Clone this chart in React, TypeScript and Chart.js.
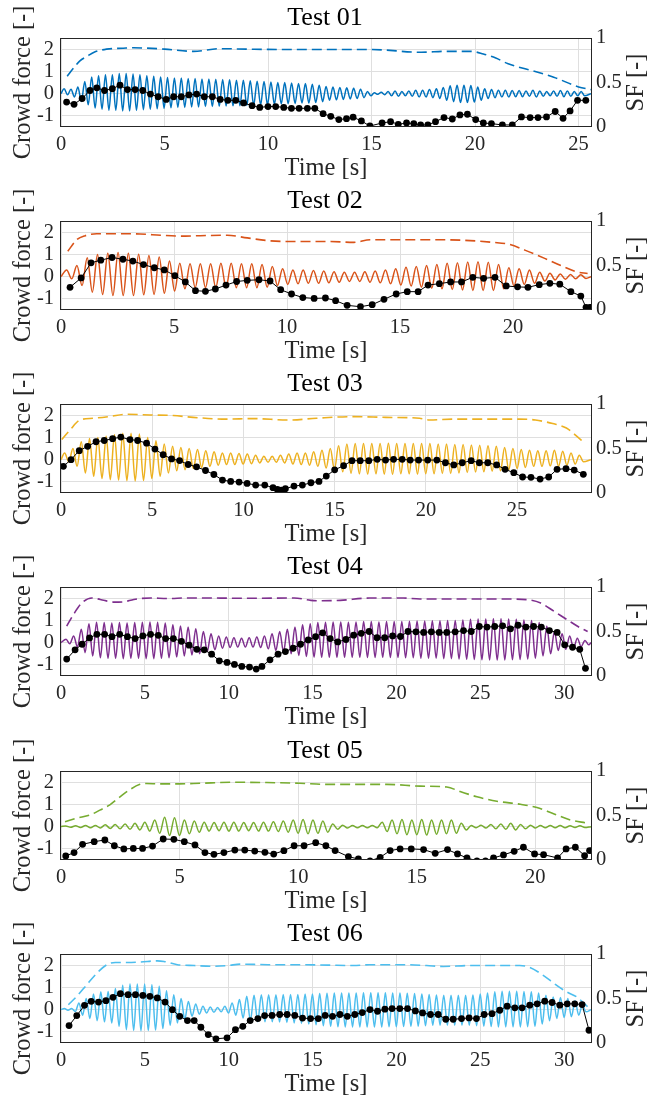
import React, { useEffect, useRef } from "react";
import { Chart, registerables } from "chart.js";

Chart.register(...registerables);

type Pair = [number, number];

// ---------------- data ----------------
const testTitles = ["Test 01", "Test 02", "Test 03", "Test 04", "Test 05", "Test 06"];
const seriesColors = ["#0072BD", "#D95319", "#EDB120", "#7E2F8E", "#77AC30", "#4DBEEE"];
const timeMax = [25.6, 23.45, 29.05, 31.6, 22.35, 31.6];
const timeTicks = [
  [0, 5, 10, 15, 20, 25],
  [0, 5, 10, 15, 20],
  [0, 5, 10, 15, 20, 25],
  [0, 5, 10, 15, 20, 25, 30],
  [0, 5, 10, 15, 20],
  [0, 5, 10, 15, 20, 25, 30],
];
const crowdTicks = [-1, 0, 1, 2];
const sfTicks = [0, 0.5, 1];
const xLabel = "Time [s]";
const yLabel = "Crowd force [-]";
const y2Label = "SF [-]";

// crowd-force oscillation: time of first crest, cycle period [s], crest and trough per cycle
const oscStart = [0.15, 0.25, 0.2, 0.3, 0.2, 0.2];
const oscPeriod = [0.333, 0.455, 0.455, 0.455, 0.417, 0.435];

const t01Peaks = [0.22, 0.2, 0.3, 0.55, 0.75, 0.8, 0.85, 0.85, 0.9, 0.9, 0.88, 0.85, 0.8, 0.78, 0.75, 0.72, 0.7, 0.7, 0.68, 0.68, 0.66, 0.66, 0.65, 0.64, 0.62, 0.6, 0.6, 0.58, 0.56, 0.55, 0.52, 0.5, 0.5, 0.48, 0.46, 0.45, 0.42, 0.38, 0.32, 0.3, 0.28, 0.26, 0.24, 0.2, 0.1, 0.04, 0.06, 0.1, 0.12, 0.1, 0.12, 0.15, 0.15, 0.18, 0.22, 0.28, 0.35, 0.38, 0.38, 0.36, 0.3, 0.22, 0.18, 0.15, 0.15, 0.14, 0.14, 0.12, 0.15, 0.12, 0.1, 0.12, 0.14, 0.12, 0.1, 0.1];
const t01Troughs = [-0.05, -0.15, -0.35, -0.5, -0.65, -0.7, -0.75, -0.75, -0.78, -0.78, -0.75, -0.72, -0.7, -0.68, -0.66, -0.64, -0.62, -0.62, -0.6, -0.6, -0.58, -0.58, -0.57, -0.56, -0.55, -0.54, -0.53, -0.52, -0.5, -0.5, -0.48, -0.46, -0.45, -0.44, -0.42, -0.42, -0.4, -0.36, -0.3, -0.28, -0.26, -0.24, -0.22, -0.18, -0.1, -0.03, -0.05, -0.1, -0.12, -0.1, -0.12, -0.15, -0.15, -0.18, -0.22, -0.3, -0.36, -0.4, -0.4, -0.38, -0.3, -0.22, -0.18, -0.15, -0.15, -0.14, -0.14, -0.12, -0.15, -0.12, -0.1, -0.12, -0.14, -0.12, -0.1, -0.1];

const t02Peaks = [0.3, 0.5, 0.85, 1.0, 1.05, 1.08, 1.05, 1.0, 0.95, 0.88, 0.7, 0.6, 0.58, 0.58, 0.58, 0.6, 0.6, 0.58, 0.58, 0.55, 0.45, 0.35, 0.3, 0.3, 0.28, 0.25, 0.22, 0.2, 0.2, 0.22, 0.25, 0.3, 0.35, 0.42, 0.45, 0.5, 0.55, 0.6, 0.62, 0.66, 0.67, 0.65, 0.55, 0.4, 0.35, 0.3, 0.2, 0.15, 0.12, 0.1, 0.08];
const t02Troughs = [-0.1, -0.4, -0.7, -0.8, -0.85, -0.85, -0.85, -0.82, -0.8, -0.75, -0.65, -0.55, -0.5, -0.5, -0.5, -0.5, -0.5, -0.5, -0.5, -0.48, -0.4, -0.35, -0.32, -0.3, -0.3, -0.28, -0.25, -0.22, -0.22, -0.25, -0.28, -0.32, -0.38, -0.42, -0.48, -0.52, -0.55, -0.58, -0.6, -0.62, -0.62, -0.62, -0.55, -0.42, -0.35, -0.3, -0.2, -0.15, -0.12, -0.1, -0.08];

const t03Peaks = [0.3, 0.5, 0.8, 0.95, 1.0, 1.05, 1.12, 1.18, 1.18, 1.15, 1.0, 0.85, 0.7, 0.6, 0.55, 0.5, 0.45, 0.4, 0.35, 0.3, 0.3, 0.28, 0.25, 0.2, 0.15, 0.15, 0.2, 0.25, 0.3, 0.3, 0.35, 0.42, 0.5, 0.62, 0.7, 0.72, 0.73, 0.72, 0.73, 0.74, 0.72, 0.72, 0.73, 0.72, 0.72, 0.7, 0.7, 0.68, 0.68, 0.66, 0.65, 0.62, 0.6, 0.55, 0.5, 0.45, 0.42, 0.4, 0.4, 0.42, 0.38, 0.3, 0.2];
const t03Troughs = [-0.1, -0.3, -0.6, -0.75, -0.85, -0.9, -0.92, -0.95, -0.96, -0.94, -0.85, -0.75, -0.6, -0.5, -0.45, -0.4, -0.35, -0.3, -0.25, -0.22, -0.22, -0.2, -0.18, -0.15, -0.12, -0.12, -0.15, -0.2, -0.22, -0.25, -0.3, -0.38, -0.45, -0.55, -0.62, -0.64, -0.65, -0.64, -0.65, -0.66, -0.64, -0.64, -0.65, -0.64, -0.64, -0.62, -0.62, -0.6, -0.58, -0.56, -0.55, -0.52, -0.5, -0.45, -0.4, -0.35, -0.3, -0.3, -0.28, -0.3, -0.25, -0.2, -0.1];

const t04Peaks = [0.15, 0.3, 0.6, 0.85, 0.92, 0.9, 0.88, 0.9, 0.88, 0.9, 0.92, 0.93, 0.92, 0.88, 0.8, 0.75, 0.7, 0.62, 0.5, 0.4, 0.3, 0.25, 0.22, 0.2, 0.22, 0.25, 0.3, 0.4, 0.5, 0.6, 0.7, 0.8, 0.85, 0.9, 0.92, 0.93, 0.93, 0.92, 0.93, 0.95, 0.95, 0.93, 0.95, 0.95, 0.95, 0.96, 0.97, 0.97, 0.98, 0.98, 1.0, 1.0, 1.02, 1.05, 1.06, 1.06, 1.07, 1.07, 1.06, 1.05, 1.02, 1.0, 0.9, 0.75, 0.5, 0.4, 0.3, 0.2, 0.1];
const t04Troughs = [-0.05, -0.2, -0.45, -0.6, -0.68, -0.7, -0.7, -0.72, -0.7, -0.7, -0.72, -0.72, -0.7, -0.68, -0.64, -0.6, -0.56, -0.5, -0.4, -0.32, -0.25, -0.22, -0.2, -0.2, -0.2, -0.22, -0.28, -0.35, -0.42, -0.5, -0.58, -0.62, -0.65, -0.66, -0.66, -0.66, -0.66, -0.66, -0.66, -0.67, -0.67, -0.66, -0.67, -0.67, -0.68, -0.68, -0.7, -0.7, -0.7, -0.72, -0.72, -0.74, -0.75, -0.76, -0.77, -0.78, -0.78, -0.78, -0.77, -0.76, -0.74, -0.7, -0.6, -0.5, -0.35, -0.3, -0.25, -0.18, -0.1];

const t05Peaks = [0.03, 0.04, 0.05, 0.05, 0.08, 0.1, 0.12, 0.15, 0.2, 0.3, 0.42, 0.4, 0.3, 0.25, 0.2, 0.18, 0.2, 0.2, 0.18, 0.18, 0.2, 0.22, 0.25, 0.3, 0.32, 0.3, 0.25, 0.12, 0.06, 0.05, 0.05, 0.05, 0.2, 0.3, 0.32, 0.3, 0.32, 0.3, 0.3, 0.3, 0.15, 0.05, 0.06, 0.1, 0.12, 0.15, 0.1, 0.06, 0.05, 0.05, 0.05, 0.04, 0.04];
const t05Troughs = [-0.03, -0.04, -0.05, -0.06, -0.08, -0.1, -0.12, -0.15, -0.2, -0.3, -0.4, -0.4, -0.32, -0.25, -0.2, -0.18, -0.2, -0.2, -0.18, -0.2, -0.2, -0.22, -0.25, -0.3, -0.32, -0.3, -0.25, -0.12, -0.06, -0.05, -0.05, -0.05, -0.22, -0.32, -0.36, -0.36, -0.38, -0.34, -0.32, -0.3, -0.15, -0.05, -0.06, -0.1, -0.12, -0.15, -0.1, -0.06, -0.05, -0.05, -0.05, -0.04, -0.04];

const t06Peaks = [0.05, 0.05, 0.3, 0.5, 0.7, 0.8, 0.82, 0.95, 1.1, 1.15, 1.15, 1.15, 1.12, 1.05, 0.85, 0.67, 0.5, 0.37, 0.25, 0.15, 0.12, 0.1, 0.15, 0.3, 0.45, 0.6, 0.65, 0.67, 0.67, 0.67, 0.68, 0.68, 0.68, 0.7, 0.7, 0.72, 0.74, 0.75, 0.75, 0.75, 0.75, 0.76, 0.76, 0.76, 0.76, 0.75, 0.75, 0.74, 0.72, 0.7, 0.68, 0.66, 0.65, 0.65, 0.65, 0.65, 0.66, 0.7, 0.75, 0.8, 0.83, 0.83, 0.83, 0.82, 0.8, 0.75, 0.65, 0.57, 0.55, 0.5, 0.4, 0.2];
const t06Troughs = [-0.03, -0.08, -0.25, -0.4, -0.5, -0.55, -0.6, -0.75, -0.9, -0.94, -0.95, -0.94, -0.92, -0.85, -0.7, -0.6, -0.45, -0.3, -0.2, -0.15, -0.12, -0.1, -0.15, -0.25, -0.38, -0.5, -0.54, -0.55, -0.55, -0.56, -0.58, -0.6, -0.62, -0.65, -0.68, -0.72, -0.75, -0.77, -0.78, -0.78, -0.78, -0.78, -0.78, -0.78, -0.77, -0.77, -0.76, -0.75, -0.74, -0.72, -0.7, -0.7, -0.7, -0.7, -0.7, -0.7, -0.72, -0.74, -0.76, -0.78, -0.78, -0.78, -0.78, -0.77, -0.75, -0.65, -0.5, -0.4, -0.35, -0.32, -0.25, -0.1];

// SF trend (dashed) [time, SF]
const t01Sf: Pair[] = [[0.3, 0.57], [0.6, 0.66], [0.9, 0.74], [1.3, 0.8], [1.6, 0.84], [2.2, 0.875], [3.0, 0.885], [3.5, 0.89], [5.0, 0.875], [6.4, 0.85], [7.7, 0.88], [9, 0.875], [11, 0.87], [13, 0.87], [15, 0.87], [17.4, 0.84], [18.6, 0.85], [19.8, 0.85], [20.4, 0.82], [21.0, 0.775], [21.6, 0.71], [22.8, 0.63], [23.8, 0.56], [25, 0.45], [25.6, 0.42]];
const t02Sf: Pair[] = [[0.3, 0.66], [0.7, 0.79], [1.07, 0.835], [1.58, 0.857], [2.47, 0.857], [3.5, 0.854], [4.4, 0.84], [5.28, 0.83], [6.17, 0.835], [7.35, 0.84], [8.24, 0.81], [9.13, 0.78], [10.0, 0.77], [10.9, 0.77], [11.9, 0.77], [12.95, 0.76], [13.7, 0.79], [15.2, 0.79], [16.6, 0.79], [18.1, 0.78], [19.1, 0.76], [19.8, 0.74], [20.55, 0.67], [21.4, 0.58], [22.2, 0.49], [22.8, 0.43], [23.3, 0.41]];
const t03Sf: Pair[] = [[0.04, 0.6], [0.5, 0.71], [1.04, 0.82], [1.77, 0.84], [2.68, 0.86], [3.6, 0.885], [4.87, 0.877], [6.15, 0.87], [7.24, 0.85], [9.07, 0.83], [10.5, 0.836], [12.5, 0.82], [14, 0.84], [16, 0.858], [17.8, 0.85], [19.65, 0.84], [20.2, 0.82], [21.5, 0.83], [23.3, 0.83], [25.1, 0.83], [26, 0.82], [26.95, 0.78], [27.7, 0.73], [28.2, 0.65], [28.6, 0.58]];
const t04Sf: Pair[] = [[0.34, 0.56], [0.74, 0.69], [1.24, 0.82], [1.84, 0.877], [2.34, 0.86], [3.14, 0.83], [3.74, 0.833], [4.34, 0.86], [5.34, 0.877], [6.34, 0.87], [7.54, 0.877], [8.74, 0.877], [10.3, 0.874], [11.9, 0.874], [13.9, 0.877], [14.9, 0.85], [15.5, 0.845], [16.65, 0.85], [18.4, 0.876], [20.4, 0.876], [21.4, 0.865], [22.4, 0.865], [24.4, 0.865], [26.4, 0.865], [27.8, 0.857], [28.6, 0.82], [29.4, 0.726], [30.2, 0.63], [30.97, 0.54], [31.4, 0.5]];
const t05Sf: Pair[] = [[0.17, 0.43], [0.66, 0.47], [1.22, 0.506], [1.64, 0.56], [2.06, 0.62], [2.49, 0.71], [2.9, 0.79], [3.33, 0.85], [3.6, 0.86], [4.17, 0.855], [5.0, 0.855], [5.86, 0.862], [7.26, 0.874], [8.67, 0.87], [10.07, 0.862], [11.2, 0.85], [12.33, 0.85], [13.74, 0.85], [15.15, 0.83], [16.27, 0.82], [16.83, 0.77], [17.54, 0.71], [18.38, 0.66], [19.37, 0.626], [20.07, 0.59], [20.77, 0.52], [21.48, 0.45], [22.18, 0.415]];
const t06Sf: Pair[] = [[0.44, 0.43], [0.94, 0.524], [1.54, 0.655], [2.14, 0.785], [2.74, 0.88], [3.24, 0.905], [3.94, 0.905], [4.74, 0.91], [5.74, 0.923], [6.14, 0.916], [6.94, 0.88], [7.94, 0.87], [9.14, 0.862], [9.94, 0.87], [10.74, 0.886], [12.34, 0.88], [14.34, 0.88], [15.9, 0.875], [17.42, 0.87], [18.4, 0.88], [20.4, 0.88], [21.8, 0.87], [22.8, 0.86], [24.4, 0.87], [26.36, 0.87], [27.35, 0.87], [27.95, 0.85], [28.75, 0.76], [29.54, 0.65], [30.14, 0.575], [30.73, 0.52], [31.13, 0.455], [31.5, 0.39]];

// black markers [time, SF]
const t01Dots: Pair[] = [[0.27, 0.28], [0.63, 0.255], [1.02, 0.32], [1.4, 0.41], [1.73, 0.44], [2.1, 0.41], [2.48, 0.43], [2.85, 0.47], [3.21, 0.42], [3.58, 0.42], [3.95, 0.41], [4.32, 0.37], [4.69, 0.34], [5.08, 0.31], [5.44, 0.34], [5.81, 0.34], [6.18, 0.36], [6.55, 0.37], [6.92, 0.34], [7.31, 0.34], [7.69, 0.31], [8.06, 0.3], [8.44, 0.3], [8.82, 0.27], [9.23, 0.24], [9.6, 0.22], [10.0, 0.23], [10.37, 0.23], [10.76, 0.22], [11.13, 0.21], [11.5, 0.21], [11.9, 0.21], [12.26, 0.21], [12.66, 0.15], [13.03, 0.12], [13.42, 0.083], [13.79, 0.094], [14.11, 0.11], [14.51, 0.068], [14.92, 0.011], [15.51, 0.045], [15.92, 0.06], [16.29, 0.03], [16.69, 0.045], [17.04, 0.038], [17.37, 0.023], [17.72, 0.023], [18.09, 0.06], [18.5, 0.106], [18.9, 0.09], [19.27, 0.136], [19.63, 0.143], [20.03, 0.083], [20.4, 0.045], [20.79, 0.038], [21.32, 0.023], [21.8, 0.023], [22.24, 0.113], [22.66, 0.106], [23.04, 0.106], [23.45, 0.113], [23.87, 0.174], [24.25, 0.098], [24.59, 0.181], [24.95, 0.3], [25.35, 0.3]];
const t02Dots: Pair[] = [[0.4, 0.255], [0.89, 0.36], [1.33, 0.53], [1.76, 0.56], [2.26, 0.59], [2.74, 0.57], [3.18, 0.55], [3.65, 0.51], [4.13, 0.475], [4.57, 0.45], [5.04, 0.386], [5.5, 0.315], [5.95, 0.217], [6.39, 0.21], [6.83, 0.236], [7.3, 0.28], [7.77, 0.32], [8.24, 0.333], [8.76, 0.34], [9.25, 0.326], [9.72, 0.228], [10.2, 0.18], [10.7, 0.14], [11.2, 0.13], [11.7, 0.135], [12.15, 0.105], [12.66, 0.052], [13.25, 0.037], [13.77, 0.06], [14.29, 0.12], [14.83, 0.18], [15.32, 0.206], [15.8, 0.206], [16.24, 0.28], [16.74, 0.296], [17.24, 0.315], [17.72, 0.315], [18.22, 0.367], [18.7, 0.356], [19.2, 0.367], [19.7, 0.27], [20.2, 0.26], [20.66, 0.255], [21.16, 0.285], [21.63, 0.3], [22.07, 0.29], [22.56, 0.206], [23.0, 0.157], [23.23, 0.03], [23.4, 0.03]];
const t03Dots: Pair[] = [[0.13, 0.3], [0.55, 0.375], [1.0, 0.476], [1.46, 0.524], [1.92, 0.576], [2.37, 0.59], [2.83, 0.61], [3.28, 0.628], [3.78, 0.6], [4.2, 0.59], [4.69, 0.56], [5.15, 0.494], [5.6, 0.43], [6.06, 0.383], [6.5, 0.364], [6.97, 0.32], [7.43, 0.294], [7.92, 0.253], [8.38, 0.208], [8.85, 0.145], [9.3, 0.13], [9.76, 0.123], [10.2, 0.108], [10.67, 0.089], [11.17, 0.089], [11.62, 0.06], [11.86, 0.04], [12.08, 0.033], [12.3, 0.048], [12.77, 0.078], [13.23, 0.089], [13.7, 0.115], [14.14, 0.13], [14.54, 0.19], [15.0, 0.26], [15.49, 0.307], [15.95, 0.363], [16.4, 0.363], [16.87, 0.363], [17.33, 0.378], [17.79, 0.37], [18.23, 0.378], [18.7, 0.378], [19.14, 0.37], [19.6, 0.37], [20.1, 0.37], [20.6, 0.37], [21.07, 0.34], [21.53, 0.315], [21.99, 0.34], [22.48, 0.363], [22.93, 0.34], [23.39, 0.34], [23.88, 0.315], [24.34, 0.266], [24.82, 0.228], [25.3, 0.18], [25.76, 0.176], [26.26, 0.157], [26.73, 0.18], [27.19, 0.266], [27.68, 0.273], [28.13, 0.258], [28.63, 0.21]];
const t04Dots: Pair[] = [[0.34, 0.19], [0.84, 0.294], [1.26, 0.357], [1.7, 0.428], [2.14, 0.468], [2.6, 0.468], [3.04, 0.442], [3.5, 0.468], [3.96, 0.442], [4.42, 0.42], [4.88, 0.45], [5.34, 0.468], [5.8, 0.457], [6.24, 0.42], [6.7, 0.42], [7.18, 0.39], [7.64, 0.346], [8.1, 0.3], [8.54, 0.294], [8.98, 0.245], [9.44, 0.171], [9.9, 0.152], [10.34, 0.13], [10.78, 0.108], [11.24, 0.1], [11.64, 0.078], [11.98, 0.108], [12.46, 0.182], [12.94, 0.245], [13.38, 0.275], [13.84, 0.312], [14.28, 0.357], [14.74, 0.405], [15.18, 0.442], [15.6, 0.485], [16.05, 0.42], [16.5, 0.383], [16.99, 0.41], [17.45, 0.459], [17.9, 0.48], [18.37, 0.5], [18.84, 0.43], [19.3, 0.43], [19.77, 0.45], [20.24, 0.444], [20.69, 0.5], [21.16, 0.496], [21.62, 0.49], [22.08, 0.496], [22.55, 0.49], [23.0, 0.49], [23.5, 0.496], [24.0, 0.51], [24.46, 0.5], [24.94, 0.556], [25.4, 0.55], [25.86, 0.556], [26.33, 0.564], [26.8, 0.53], [27.25, 0.57], [27.72, 0.55], [28.18, 0.556], [28.64, 0.55], [29.12, 0.51], [29.58, 0.49], [30.03, 0.35], [30.5, 0.323], [30.93, 0.3], [31.27, 0.086]];
const t05Dots: Pair[] = [[0.2, 0.045], [0.55, 0.083], [0.91, 0.176], [1.4, 0.206], [1.85, 0.225], [2.25, 0.16], [2.65, 0.124], [3.05, 0.13], [3.44, 0.13], [3.86, 0.157], [4.31, 0.236], [4.76, 0.232], [5.2, 0.206], [5.65, 0.169], [6.07, 0.083], [6.45, 0.064], [6.87, 0.083], [7.33, 0.112], [7.75, 0.112], [8.17, 0.1], [8.6, 0.086], [8.97, 0.067], [9.4, 0.105], [9.83, 0.16], [10.25, 0.16], [10.74, 0.195], [11.17, 0.16], [11.56, 0.106], [12.12, 0.038], [12.54, 0.011], [13.03, -0.01], [13.46, 0.03], [13.88, 0.106], [14.3, 0.125], [14.77, 0.125], [15.29, 0.117], [15.78, 0.075], [16.3, 0.117], [16.72, 0.068], [17.12, 0.023], [17.54, -0.01], [17.9, -0.01], [18.24, 0.023], [18.66, 0.057], [19.11, 0.098], [19.5, 0.143], [19.97, 0.068], [20.35, 0.06], [20.94, 0.023], [21.3, 0.125], [21.69, 0.143], [22.08, 0.049], [22.29, 0.106]];
const t06Dots: Pair[] = [[0.48, 0.196], [0.94, 0.308], [1.4, 0.423], [1.8, 0.468], [2.24, 0.46], [2.68, 0.476], [3.1, 0.513], [3.54, 0.554], [4.0, 0.543], [4.44, 0.543], [4.88, 0.535], [5.3, 0.524], [5.74, 0.506], [6.2, 0.46], [6.64, 0.375], [7.08, 0.3], [7.54, 0.252], [7.94, 0.252], [8.34, 0.177], [8.78, 0.095], [9.24, 0.047], [9.9, 0.058], [10.4, 0.15], [10.84, 0.187], [11.28, 0.252], [11.74, 0.274], [12.14, 0.308], [12.58, 0.31], [13.04, 0.32], [13.48, 0.32], [13.94, 0.31], [14.4, 0.28], [14.88, 0.274], [15.34, 0.274], [15.75, 0.31], [16.19, 0.3], [16.63, 0.32], [17.07, 0.3], [17.52, 0.32], [17.96, 0.342], [18.42, 0.376], [18.87, 0.357], [19.31, 0.38], [19.74, 0.387], [20.2, 0.387], [20.66, 0.387], [21.13, 0.36], [21.56, 0.338], [22.03, 0.32], [22.49, 0.32], [22.94, 0.267], [23.38, 0.267], [23.88, 0.274], [24.33, 0.282], [24.77, 0.274], [25.23, 0.32], [25.7, 0.33], [26.16, 0.368], [26.6, 0.414], [27.06, 0.395], [27.49, 0.395], [27.95, 0.425], [28.39, 0.44], [28.84, 0.47], [29.28, 0.455], [29.74, 0.425], [30.18, 0.44], [30.63, 0.44], [31.07, 0.432], [31.48, 0.143]];

const allPeaks = [t01Peaks, t02Peaks, t03Peaks, t04Peaks, t05Peaks, t06Peaks];
const allTroughs = [t01Troughs, t02Troughs, t03Troughs, t04Troughs, t05Troughs, t06Troughs];
const allSf = [t01Sf, t02Sf, t03Sf, t04Sf, t05Sf, t06Sf];
const allDots = [t01Dots, t02Dots, t03Dots, t04Dots, t05Dots, t06Dots];

// ---------------- rendering ----------------
const FONT = "'Liberation Serif', 'Times New Roman', serif";
const TEXT = "#262626";
const GRID = "#dfdfdf";
const CANVAS_W = 650;
const CANVAS_H = 183;
const canvasTops = [0, 183, 366, 549, 733, 916];
const LABEL_SIZE = 24.5;

function buildOscillation(i: number) {
  const peaks = allPeaks[i];
  const troughs = allTroughs[i];
  const start = oscStart[i];
  const period = oscPeriod[i];
  const n = Math.min(peaks.length, troughs.length);
  const pts: { x: number; y: number }[] = [{ x: 0, y: 0 }];
  for (let k = 0; k < n; k++) {
    pts.push({ x: start + k * period, y: peaks[k] });
    pts.push({ x: start + (k + 0.5) * period, y: troughs[k] });
  }
  const last = pts[pts.length - 1].x;
  if (last < timeMax[i]) pts.push({ x: timeMax[i], y: 0 });
  return pts;
}

const framePlugin = {
  id: "frameAndRightTitle",
  afterDraw(chart: any) {
    const { ctx, chartArea: a } = chart;
    ctx.save();
    ctx.strokeStyle = TEXT;
    ctx.lineWidth = 1;
    ctx.strokeRect(Math.round(a.left) - 0.5, Math.round(a.top) + 0.5, Math.round(a.right - a.left) + 1, Math.round(a.bottom - a.top) - 1);
    ctx.fillStyle = TEXT;
    ctx.font = `${LABEL_SIZE}px ${FONT}`;
    ctx.textAlign = "center";
    ctx.textBaseline = "middle";
    ctx.translate(637, (a.top + a.bottom) / 2);
    ctx.rotate(-Math.PI / 2);
    ctx.fillText(y2Label, 0, 0);
    ctx.restore();
  },
};

const plainLabel = (v: any) => String(v);

function TestChart({ index }: { index: number }) {
  const ref = useRef<HTMLCanvasElement | null>(null);
  useEffect(() => {
    const color = seriesColors[index];
    const tickFont = { family: FONT, size: 20.5 };
    const labelFont = { family: FONT, size: LABEL_SIZE };
    const chart = new Chart(ref.current as HTMLCanvasElement, {
      type: "line",
      data: {
        datasets: [
          {
            label: "markers",
            data: allDots[index].map(([x, y]) => ({ x, y })),
            yAxisID: "y1",
            borderColor: "#000",
            backgroundColor: "#000",
            borderWidth: 1,
            pointRadius: 3.4,
            pointBorderWidth: 0,
            pointBackgroundColor: "#000",
            order: 0,
          },
          {
            label: "SF",
            data: allSf[index].map(([x, y]) => ({ x, y })),
            yAxisID: "y1",
            borderColor: color,
            borderWidth: 1.6,
            borderDash: [10, 5],
            pointRadius: 0,
            cubicInterpolationMode: "monotone",
            order: 1,
          },
          {
            label: "Crowd force",
            data: buildOscillation(index),
            yAxisID: "y",
            borderColor: color,
            borderWidth: 1.5,
            pointRadius: 0,
            cubicInterpolationMode: "monotone",
            order: 2,
          },
        ],
      } as any,
      options: {
        responsive: false,
        animation: false,
        devicePixelRatio: 1,
        layout: { padding: 0 },
        events: [],
        plugins: {
          legend: { display: false },
          tooltip: { enabled: false },
          title: {
            display: true,
            text: testTitles[index],
            color: "#000",
            font: { family: FONT, size: 26, weight: "normal" },
            padding: { top: 2.4, bottom: 4.4 },
          },
        },
        scales: {
          x: {
            type: "linear",
            min: 0,
            max: timeMax[index],
            afterBuildTicks: (s: any) => {
              s.ticks = timeTicks[index].map((v) => ({ value: v }));
            },
            afterFit: (s: any) => {
              s.height = 56;
            },
            grid: { color: GRID, drawTicks: false },
            border: { display: false },
            ticks: { font: tickFont, color: TEXT, padding: 5, maxRotation: 0, autoSkip: false, callback: plainLabel },
            title: { display: true, text: xLabel, font: labelFont, color: TEXT, padding: { top: 0, bottom: 0 } },
          },
          y: {
            type: "linear",
            position: "left",
            min: -1.5,
            max: 2.5,
            afterBuildTicks: (s: any) => {
              s.ticks = crowdTicks.map((v) => ({ value: v }));
            },
            afterFit: (s: any) => {
              s.width = 61;
            },
            grid: { color: GRID, drawTicks: false },
            border: { display: false },
            ticks: { font: tickFont, color: TEXT, padding: 7, autoSkip: false, callback: plainLabel },
            title: { display: true, text: yLabel, font: labelFont, color: TEXT, padding: { top: 9.3, bottom: 0 } },
          },
          y1: {
            type: "linear",
            position: "right",
            min: 0,
            max: 1,
            afterBuildTicks: (s: any) => {
              s.ticks = sfTicks.map((v) => ({ value: v }));
            },
            afterFit: (s: any) => {
              s.width = 59;
            },
            grid: { display: false, drawTicks: false },
            border: { display: false },
            ticks: { font: tickFont, color: TEXT, padding: 5, autoSkip: false, callback: plainLabel },
          },
        },
      } as any,
      plugins: [framePlugin],
    });
    return () => chart.destroy();
  }, [index]);
  return (
    <canvas
      ref={ref}
      width={CANVAS_W}
      height={CANVAS_H}
      style={{ position: "absolute", left: 0, top: canvasTops[index], width: CANVAS_W, height: CANVAS_H }}
    />
  );
}

export default function App() {
  return (
    <div style={{ position: "absolute", left: 0, top: 0, width: CANVAS_W, height: 1101, background: "#fff" }}>
      {testTitles.map((_, i) => (
        <TestChart key={i} index={i} />
      ))}
    </div>
  );
}
